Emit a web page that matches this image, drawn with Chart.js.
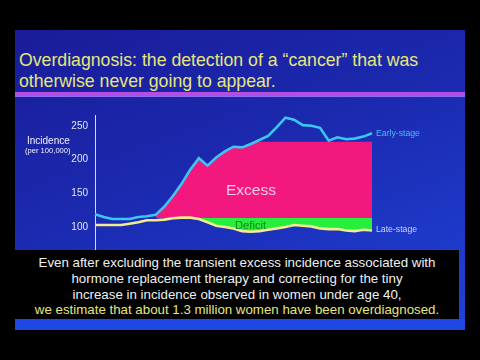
<!DOCTYPE html>
<html>
<head>
<meta charset="utf-8">
<script src="https://cdn.jsdelivr.net/npm/chart.js@4.4.0/dist/chart.umd.min.js"></script>
<style>
  html, body { margin: 0; padding: 0; background: #000; }
  body { width: 480px; height: 360px; position: relative; overflow: hidden; font-family: "Liberation Sans", Arial, sans-serif; }
  .slide { position: absolute; left: 15px; top: 30px; width: 450px; height: 300px;
    background: linear-gradient(160deg, #1a1c98 0%, #1b2ab0 45%, #1f42d8 100%); }
  .title { position: absolute; left: 19px; top: 50px; color: #e6e67c; font-size: 17.7px; line-height: 21px; white-space: nowrap; }
  .rule { position: absolute; left: 15px; top: 92px; width: 450px; height: 4px; background: #b24ee6; border-bottom: 1px solid #8a6cf0; }
  #chartBox { position: absolute; left: 0; top: 0; width: 480px; height: 360px; }
  .lbl { position: absolute; white-space: nowrap; line-height: 1; }
  .caption { position: absolute; left: 15px; top: 250px; width: 444px; height: 69px; background: #000;
    color: #f0f0f0; font-size: 13.3px; line-height: 15.8px; text-align: center; padding-top: 5px; box-sizing: border-box; }
  .caption .hl { color: #e6e67c; }
  .strip { position: absolute; left: 15px; top: 319px; width: 450px; height: 11px; background: #2046e6; }
</style>
</head>
<body>
<div class="slide"></div>
<div class="title">Overdiagnosis: the detection of a “cancer” that was<br>otherwise never going to appear.</div>
<div class="rule"></div>
<div id="chartBox"><canvas id="grafico"></canvas></div>
<div class="lbl" style="left:27px; top:136px; color:#f2f2ff; font-size:10px;">Incidence</div>
<div class="lbl" style="left:25px; top:147px; color:#f2f2ff; font-size:7.6px;">(per 100,000)</div>
<div class="lbl" style="left:226px; top:182px; color:#f8cbe6; font-size:15.5px;">Excess</div>
<div class="lbl" style="left:235px; top:220px; color:#1f7d22; font-size:11.2px;">Deficit</div>
<div class="lbl" style="left:376px; top:129px; color:#4fb8f4; font-size:8.7px;">Early-stage</div>
<div class="lbl" style="left:376px; top:225px; color:#c8d4f4; font-size:8.7px;">Late-stage</div>
<div class="strip"></div>
<div class="caption">Even after excluding the transient excess incidence associated with<br>hormone replacement therapy and correcting for the tiny<br>increase in incidence observed in women under age 40,<br><span class="hl">we estimate that about 1.3 million women have been overdiagnosed.</span></div>
<script>
const anos = ['1976','1977','1978','1979','1980','1981','1982','1983','1984','1985','1986','1987','1988','1989','1990','1991','1992','1993','1994','1995','1996','1997','1998','1999','2000','2001','2002','2003','2004','2005','2006','2007','2008']
const earlyStage = [119,115,112,112,112,115,116,118,130,146,164,185,202,191,203,212,219,218,223,229,235,248,262,259,251,250,247,228,233,230,231,234,239]
const lateStage = [103,103,103,103,105,107,110,110,111,113,114,114,112,107,102,100,98,94,93,94,96,98,100,103,102,101,98,97,97,95,94,96,95]
const yTicks = [100, 150, 200, 250]

// baseline and ceiling of the "excess" block, first index of each shaded area
const baseline = 113.5
const excessCap = 226.5
const inicioExcess = 7
const inicioDeficit = 11

const excessTop = earlyStage.map((v, i) => i < inicioExcess ? null : Math.min(v, excessCap))
const deficitBottom = lateStage.map((v, i) => i < inicioDeficit ? null : Math.min(v, baseline))

let grafico = new Chart(
    document.getElementById('grafico'),
    {
        type: 'line',
        data: {
            labels: anos,
            datasets: [
                {
                    data: earlyStage,
                    borderColor: '#3cc6f4',
                    borderWidth: 2.6,
                    pointRadius: 0,
                    fill: false,
                    tension: 0
                },
                {
                    data: lateStage,
                    borderColor: '#f4ec92',
                    borderWidth: 2.6,
                    pointRadius: 0,
                    fill: false,
                    tension: 0
                },
                {
                    data: excessTop,
                    borderWidth: 0,
                    borderColor: 'rgba(0,0,0,0)',
                    backgroundColor: '#f3187e',
                    pointRadius: 0,
                    fill: { value: baseline }
                },
                {
                    data: deficitBottom,
                    borderWidth: 0,
                    borderColor: 'rgba(0,0,0,0)',
                    backgroundColor: '#26ee3c',
                    pointRadius: 0,
                    fill: { value: baseline }
                }
            ]
        },
        options: {
            responsive: true,
            maintainAspectRatio: false,
            animation: false,
            layout: {
                padding: { top: 115, bottom: 110, left: 0, right: 108 }
            },
            plugins: {
                legend: { display: false },
                tooltip: { enabled: false }
            },
            scales: {
                x: {
                    display: false,
                    offset: false
                },
                y: {
                    min: 66,
                    max: 266,
                    afterFit: scale => { scale.width = 95 },
                    afterBuildTicks: scale => { scale.ticks = yTicks.map(v => ({ value: v })) },
                    grid: { display: false, drawTicks: false },
                    border: { display: true, color: '#d8dcf4', width: 1 },
                    ticks: {
                        color: '#e4e6f8',
                        padding: 7,
                        font: { family: 'Liberation Sans', size: 10 }
                    }
                }
            }
        }
    }
)
</script>
</body>
</html>
